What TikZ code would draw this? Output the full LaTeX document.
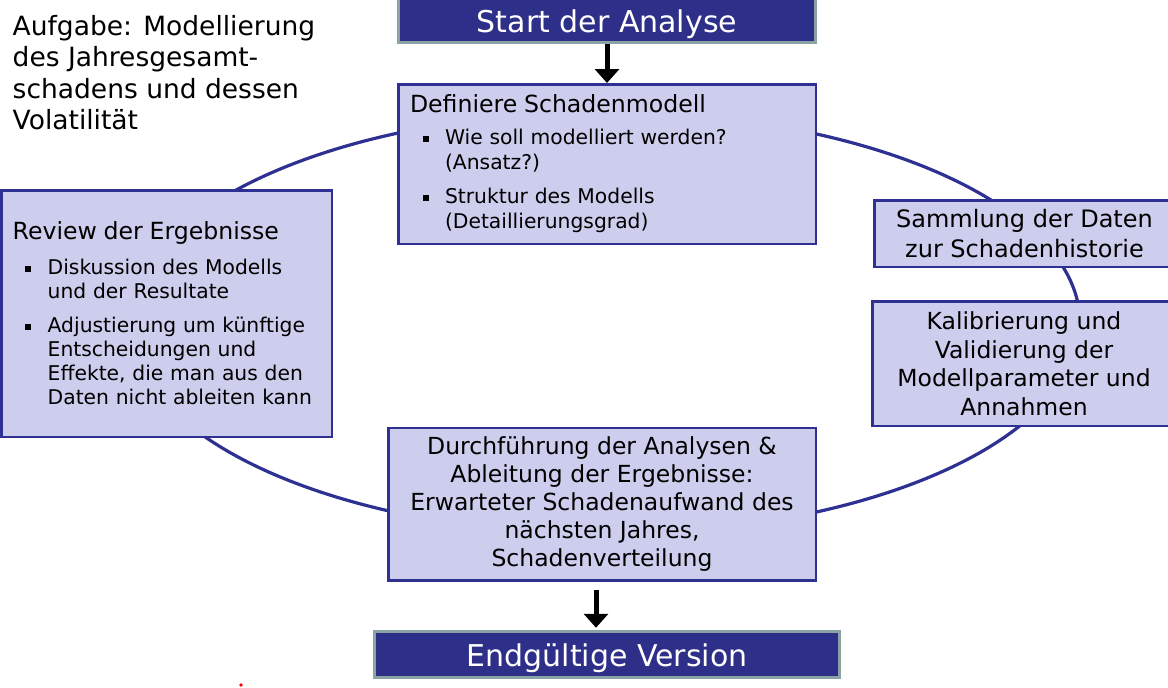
\documentclass[tikz,border=0pt]{standalone}
\usepackage{fontspec}
\setmainfont{DejaVu Sans}
\usetikzlibrary{arrows.meta}
\definecolor{navy}{HTML}{2E2F88}
\definecolor{lav}{HTML}{CDCDED}
\definecolor{edgegray}{HTML}{8CA3A6}
\definecolor{ringcol}{HTML}{2E3192}
\newcommand{\mybul}{\rule[2.5pt]{6pt}{6pt}}
\begin{document}
\begin{tikzpicture}[x=1pt,y=-1pt,
  lbox/.style={draw=ringcol, line width=2.5pt, fill=lav, rectangle, inner sep=0pt},
  dbox/.style={draw=edgegray, line width=3pt, fill=navy, text=white, rectangle, inner sep=0pt,
    font=\fontsize{30}{36}\selectfont, text height=24pt, text depth=0pt},
  ctext/.style={align=center, font=\fontsize{23.5}{28.5}\selectfont},
  ring/.style={draw=ringcol, line width=3.2pt},
  flow/.style={-{Triangle[width=24pt,length=14pt]}, line width=5pt, black}]
\useasboundingbox (0,0) rectangle (1168,688);
\fill[white] (0,0) rectangle (1168,688);
\draw[ring] (605,323) ellipse [x radius=475, y radius=211];

\node[anchor=north west, inner sep=0pt, align=left, font=\fontsize{26.5}{31.5}\selectfont] (task) at (12.5,15)
  {Aufgabe: Modellierung\\des Jahresgesamt-\\schadens und dessen\\Volatilität};

\node[dbox, minimum width=417pt, minimum height=45pt] (start) at (607,20) {Start der Analyse};

\node[lbox, minimum width=417.5pt, minimum height=159.5pt, text width=394pt, align=left,
  font=\fontsize{20.3}{25}\selectfont] (def) at (607,164)
  {{\fontsize{23.6}{25}\selectfont Definiere Schadenmodell}\\[7pt]
   \hspace*{13pt}\makebox[22pt][l]{\mybul}Wie soll modelliert werden?\\
   \hspace*{35pt}(Ansatz?)\\[9pt]
   \hspace*{13pt}\makebox[22pt][l]{\mybul}Struktur des Modells\\
   \hspace*{35pt}(Detaillierungsgrad)};

\node[lbox, minimum width=330.5pt, minimum height=246.5pt, text width=307.6pt, align=left,
  font=\fontsize{20.3}{24.3}\selectfont] (rev) at (166.5,313.5)
  {{\fontsize{23.6}{25}\selectfont Review der Ergebnisse}\\[10.5pt]
   \hspace*{12.5pt}\makebox[22.5pt][l]{\mybul}Diskussion des Modells\\
   \hspace*{35pt}und der Resultate\\[9pt]
   \hspace*{12.5pt}\makebox[22.5pt][l]{\mybul}Adjustierung um künftige\\
   \hspace*{35pt}Entscheidungen und\\
   \hspace*{35pt}Effekte, die man aus den\\
   \hspace*{35pt}Daten nicht ableiten kann};

\node[lbox, ctext, font=\fontsize{24}{29.4}\selectfont, minimum width=300.5pt, minimum height=66.5pt] (sam) at (1024.5,233.5)
  {Sammlung der Daten\\zur Schadenhistorie};

\node[lbox, ctext, minimum width=303.5pt, minimum height=124.5pt] (kal) at (1024,363.5)
  {Kalibrierung und\\Validierung der\\Modellparameter und\\Annahmen};

\node[lbox, ctext, font=\fontsize{23.5}{28}\selectfont, minimum width=427.5pt, minimum height=152.5pt] (dur) at (602,504)
  {Durchführung der Analysen \&\\Ableitung der Ergebnisse:\\Erwarteter Schadenaufwand des\\nächsten Jahres,\\Schadenverteilung};

\node[dbox, font=\fontsize{30}{35}\selectfont, minimum width=465pt, minimum height=46.5pt] (end) at (607,654.5) {Endgültige Version};

\draw[flow] (start.south) -- (def.north);
\draw[flow] ([xshift=-6pt,yshift=-8pt]dur.south) -- ([xshift=-11pt,yshift=2pt]end.north);

\fill[red] (241,685) circle (1.8);
\end{tikzpicture}
\end{document}
